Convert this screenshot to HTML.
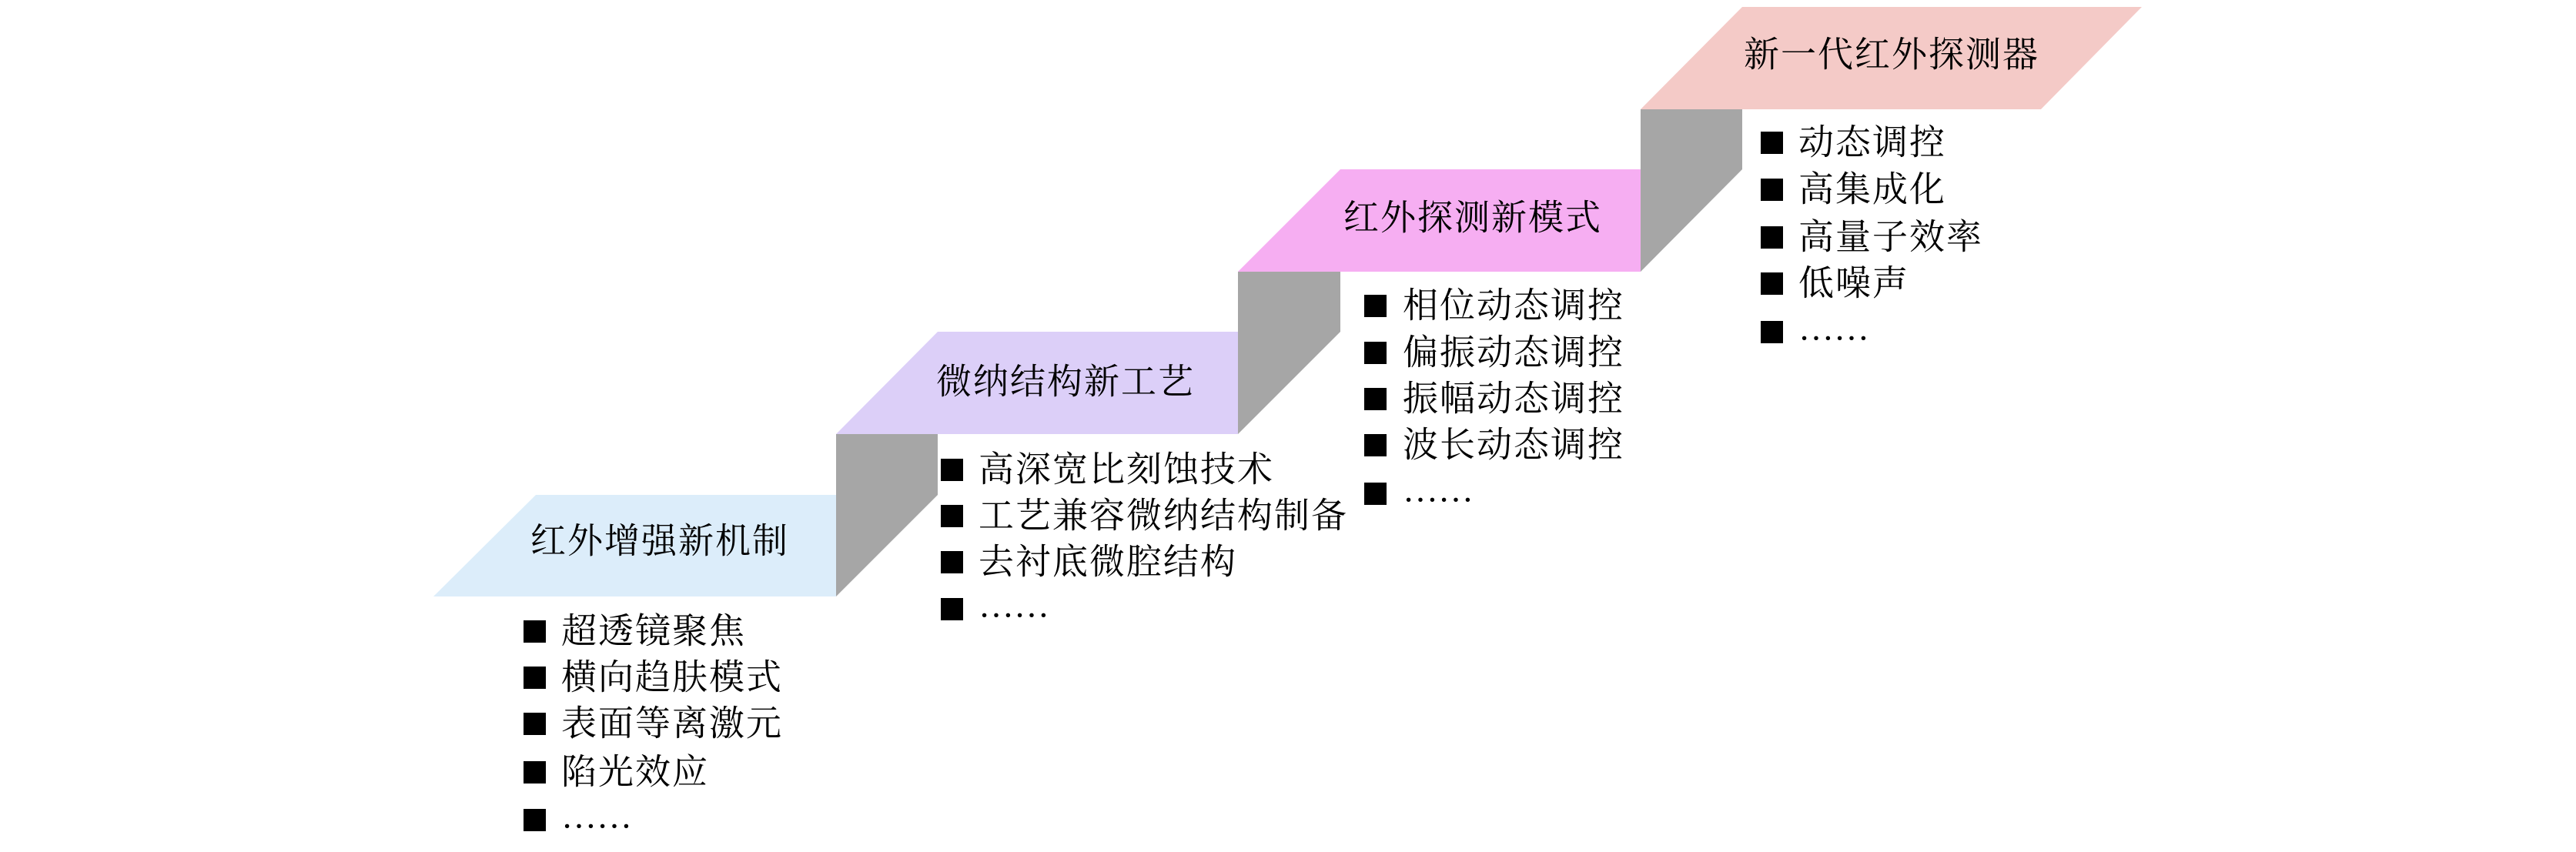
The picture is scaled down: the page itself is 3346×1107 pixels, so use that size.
<!DOCTYPE html>
<html><head><meta charset="utf-8"><style>
html,body{margin:0;padding:0;background:#fff;}
svg text{font-family:"Liberation Serif","Noto Serif CJK SC",serif;font-size:46px;fill:#000;dominant-baseline:central;}
</style></head><body>
<svg width="3346" height="1102" viewBox="0 0 3346 1102" xmlns="http://www.w3.org/2000/svg">
<polygon points="1086,564 1218,564 1218,643 1086,775" fill="#a6a6a6"/>
<polygon points="1608,353 1741,353 1741,431 1608,564" fill="#a6a6a6"/>
<polygon points="2131,142 2263,142 2263,220 2131,353" fill="#a6a6a6"/>
<polygon points="696,643 1086,643 1086,775 563,775" fill="#dcedfa"/>
<polygon points="1218,431 1608,431 1608,564 1086,564" fill="#dccff8"/>
<polygon points="1741,220 2131,220 2131,353 1608,353" fill="#f6aef2"/>
<polygon points="2263,9 2782,9 2651,142 2131,142" fill="#f4cac7"/>
<text x="857" y="703" text-anchor="middle" letter-spacing="2">红外增强新机制</text>
<text x="1384" y="496" text-anchor="middle" letter-spacing="2">微纳结构新工艺</text>
<text x="1913" y="283" text-anchor="middle" letter-spacing="2">红外探测新模式</text>
<text x="2457" y="71" text-anchor="middle" letter-spacing="2">新一代红外探测器</text>
<g fill="#000">
<rect x="680" y="806" width="29" height="29"/><rect x="680" y="866" width="29" height="29"/><rect x="680" y="926" width="29" height="29"/><rect x="680" y="989" width="29" height="29"/><rect x="680" y="1051" width="29" height="29"/>
<rect x="1222" y="596" width="29" height="29"/><rect x="1222" y="656" width="29" height="29"/><rect x="1222" y="716" width="29" height="29"/><rect x="1222" y="777" width="29" height="29"/>
<rect x="1772" y="383" width="29" height="29"/><rect x="1772" y="444" width="29" height="29"/><rect x="1772" y="504" width="29" height="29"/><rect x="1772" y="564" width="29" height="29"/><rect x="1772" y="627" width="29" height="29"/>
<rect x="2287" y="171" width="29" height="29"/><rect x="2287" y="232" width="29" height="29"/><rect x="2287" y="294" width="29" height="29"/><rect x="2287" y="354" width="29" height="29"/><rect x="2287" y="417" width="29" height="29"/>
</g>
<text x="729" y="820" letter-spacing="2">超透镜聚焦</text>
<text x="729" y="880" letter-spacing="2">横向趋肤模式</text>
<text x="729" y="940" letter-spacing="2">表面等离激元</text>
<text x="729" y="1003" letter-spacing="2">陷光效应</text>
<text x="729" y="1060">……</text>
<text x="1271" y="610" letter-spacing="2">高深宽比刻蚀技术</text>
<text x="1271" y="670" letter-spacing="2">工艺兼容微纳结构制备</text>
<text x="1271" y="730" letter-spacing="2">去衬底微腔结构</text>
<text x="1271" y="786">……</text>
<text x="1822" y="397" letter-spacing="2">相位动态调控</text>
<text x="1822" y="458" letter-spacing="2">偏振动态调控</text>
<text x="1822" y="518" letter-spacing="2">振幅动态调控</text>
<text x="1822" y="578" letter-spacing="2">波长动态调控</text>
<text x="1822" y="636">……</text>
<text x="2336" y="185" letter-spacing="2">动态调控</text>
<text x="2336" y="246" letter-spacing="2">高集成化</text>
<text x="2336" y="308" letter-spacing="2">高量子效率</text>
<text x="2336" y="368" letter-spacing="2">低噪声</text>
<text x="2336" y="426">……</text>
</svg>
</body></html>
